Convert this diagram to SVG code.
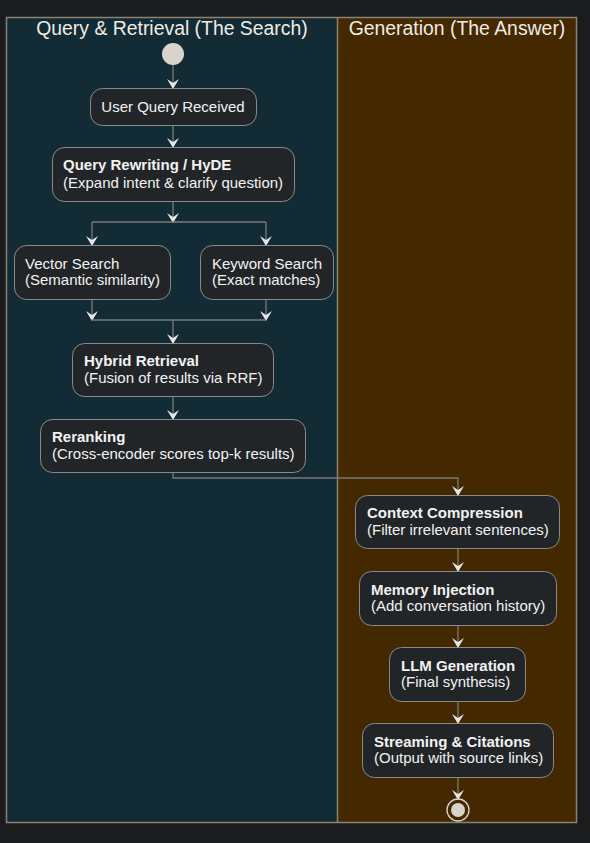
<svg xmlns="http://www.w3.org/2000/svg" width="590" height="843" viewBox="0 0 590 843">
<defs>
<style>
.node rect{fill:#222528;stroke:#8a8a8a;stroke-width:1}
.t{font-family:"Liberation Sans",Arial,sans-serif;font-size:15px;fill:#f2f2f2}
.b{font-weight:bold}
.title{font-family:"Liberation Sans",Arial,sans-serif;font-size:19.4px;fill:#f0ece4;text-anchor:middle}
.conn path{fill:none;stroke:#7a7a7a;stroke-width:1.3}
</style>
<marker id="ah" viewBox="0 0 10 12" refX="9" refY="6" markerWidth="10" markerHeight="12" markerUnits="userSpaceOnUse" orient="auto">
<path d="M0,0 L10,6 L0,12 L4,6 Z" fill="#e6e6e6"/>
</marker>
</defs>
<rect width="590" height="843" fill="#1b1c1e"/>
<g id="lanes">
<rect x="6.5" y="17.5" width="331" height="805" fill="#122b35"/>
<rect x="337.5" y="17.5" width="239" height="805" fill="#442800"/>
<rect x="6.5" y="17.5" width="570" height="805" fill="none" stroke="#8c8270" stroke-width="1.5"/>
<line x1="337.5" y1="17.5" x2="337.5" y2="822.5" stroke="#8c8270" stroke-width="1.5"/>
<text class="title" x="172" y="35">Query &amp; Retrieval (The Search)</text>
<text class="title" x="457" y="35">Generation (The Answer)</text>
</g>
<g class="conn" id="connectors">
<path d="M173,65 V88" marker-end="url(#ah)"/>
<path d="M173,125 V147" marker-end="url(#ah)"/>
<path d="M173,201 V222" marker-end="url(#ah)"/>
<path d="M92,222 H266"/>
<path d="M92,222 V245" marker-end="url(#ah)"/>
<path d="M266,222 V245" marker-end="url(#ah)"/>
<path d="M92,299 V320" marker-end="url(#ah)"/>
<path d="M266,299 V320" marker-end="url(#ah)"/>
<path d="M92,320 H266"/>
<path d="M173,320 V343" marker-end="url(#ah)"/>
<path d="M173,396 V419" marker-end="url(#ah)"/>
<path d="M173,472 V478 H458 V495" marker-end="url(#ah)"/>
<path d="M458,548 V571" marker-end="url(#ah)"/>
<path d="M458,625 V647" marker-end="url(#ah)"/>
<path d="M458,701 V723" marker-end="url(#ah)"/>
<path d="M458,777 V799" marker-end="url(#ah)"/>
</g>
<g id="start"><circle cx="173" cy="54" r="11" fill="#d8d4cc"/></g>
<g class="node" id="n-user-query"><rect x="90.5" y="88.5" width="166" height="37" rx="12"/><text class="t" x="173" y="112" text-anchor="middle">User Query Received</text></g>
<g class="node" id="n-rewrite"><rect x="52.5" y="147.5" width="242" height="54" rx="12"/><text class="t b" x="63" y="170">Query Rewriting / HyDE</text><text class="t" x="63" y="188">(Expand intent &amp; clarify question)</text></g>
<g class="node" id="n-vector"><rect x="14.5" y="245.5" width="156" height="54" rx="12"/><text class="t" x="25" y="269">Vector Search</text><text class="t" x="25" y="285">(Semantic similarity)</text></g>
<g class="node" id="n-keyword"><rect x="200.5" y="245.5" width="133" height="54" rx="12"/><text class="t" x="212" y="269">Keyword Search</text><text class="t" x="212" y="285">(Exact matches)</text></g>
<g class="node" id="n-hybrid"><rect x="72.5" y="343.5" width="201" height="53" rx="12"/><text class="t b" x="84" y="366">Hybrid Retrieval</text><text class="t" x="84" y="383">(Fusion of results via RRF)</text></g>
<g class="node" id="n-rerank"><rect x="40.5" y="419.5" width="265" height="53" rx="12"/><text class="t b" x="52" y="442">Reranking</text><text class="t" x="52" y="459">(Cross-encoder scores top-k results)</text></g>
<g class="node" id="n-compress"><rect x="355.5" y="495.5" width="204" height="53" rx="12"/><text class="t b" x="367" y="518">Context Compression</text><text class="t" x="367" y="535">(Filter irrelevant sentences)</text></g>
<g class="node" id="n-memory"><rect x="359.5" y="571.5" width="197" height="54" rx="12"/><text class="t b" x="371" y="595">Memory Injection</text><text class="t" x="371" y="611">(Add conversation history)</text></g>
<g class="node" id="n-llm"><rect x="389.5" y="647.5" width="136" height="54" rx="12"/><text class="t b" x="401" y="671">LLM Generation</text><text class="t" x="401" y="687">(Final synthesis)</text></g>
<g class="node" id="n-stream"><rect x="362.5" y="723.5" width="191" height="54" rx="12"/><text class="t b" x="374" y="747">Streaming &amp; Citations</text><text class="t" x="374" y="763">(Output with source links)</text></g>
<g id="end"><circle cx="458" cy="810" r="11" fill="none" stroke="#d8d4cc" stroke-width="1.3"/><circle cx="458" cy="810" r="7" fill="#d8d4cc"/></g>
</svg>
